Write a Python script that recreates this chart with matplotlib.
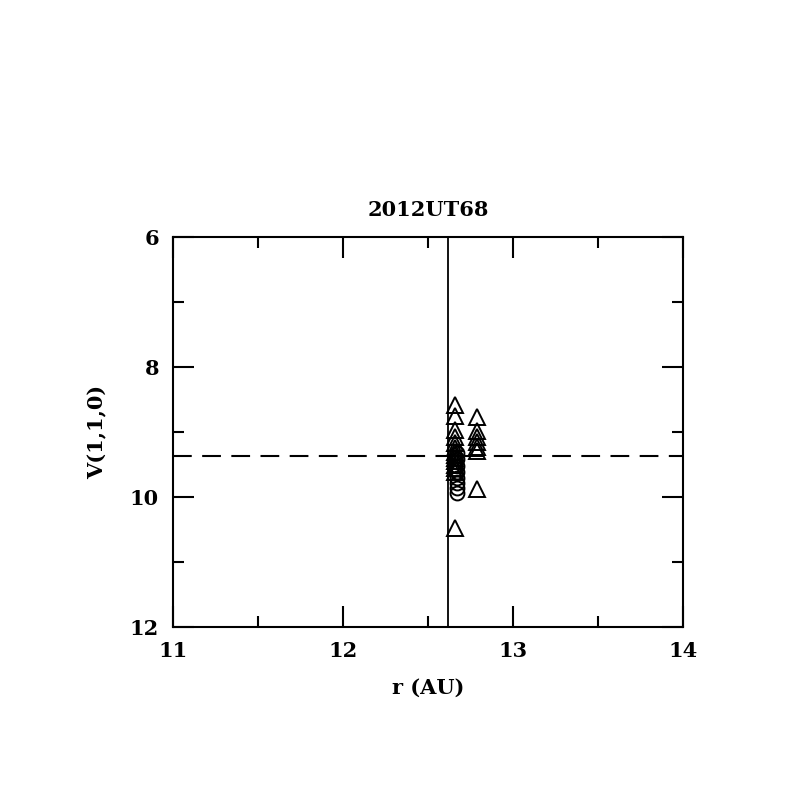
import matplotlib
matplotlib.use("Agg")
import matplotlib.pyplot as plt
from matplotlib.ticker import MultipleLocator

# Object and reference lines
TITLE = "2012UT68"
R_LINE = 12.62
V_MEAN = 9.37

# Triangles: observations at r ~ 12.66 AU
tri_r1 = [12.66] * 14
tri_v1 = [8.58, 8.75, 8.97, 9.08, 9.17, 9.25, 9.30, 9.35, 9.40, 9.45, 9.50, 9.55, 9.62, 10.47]

# Triangles: observations at r ~ 12.79 AU
tri_r2 = [12.79] * 7
tri_v2 = [8.77, 8.98, 9.07, 9.15, 9.23, 9.29, 9.88]

# Circles: observations at r ~ 12.67 AU
circ_r = [12.67] * 8
circ_v = [9.32, 9.42, 9.52, 9.62, 9.70, 9.78, 9.86, 9.94]

plt.rcParams["font.family"] = ["DejaVu Serif"]
plt.rcParams["font.weight"] = "bold"
plt.rcParams["axes.titleweight"] = "bold"
plt.rcParams["axes.labelweight"] = "bold"

fig = plt.figure(figsize=(7.97, 7.97), dpi=100)
ax = fig.add_axes([0.217, 0.213, 0.640, 0.490])

ax.axvline(R_LINE, color="black", lw=1.3)
ax.axhline(V_MEAN, color="black", lw=1.5, ls=(0, (9, 5)))

ax.plot(tri_r1, tri_v1, ls="none", marker="^", ms=11, mfc="none", mec="black", mew=1.4)
ax.plot(tri_r2, tri_v2, ls="none", marker="^", ms=11, mfc="none", mec="black", mew=1.4)
ax.plot(circ_r, circ_v, ls="none", marker="o", ms=10, mfc="none", mec="black", mew=1.4)

ax.set_xlim(11, 14)
ax.set_ylim(12, 6)
ax.xaxis.set_major_locator(MultipleLocator(1))
ax.xaxis.set_minor_locator(MultipleLocator(0.5))
ax.yaxis.set_major_locator(MultipleLocator(2))
ax.yaxis.set_minor_locator(MultipleLocator(1))
ax.tick_params(which="both", direction="in", top=True, right=True, width=1.5, labelsize=15, pad=10)
ax.tick_params(which="major", length=15)
ax.tick_params(which="minor", length=8)
for s in ax.spines.values():
    s.set_linewidth(1.5)

ax.set_xlabel("r (AU)", fontsize=15, labelpad=12)
ax.set_ylabel("V(1,1,0)", fontsize=15, labelpad=16)
ax.set_title(TITLE, fontsize=15, pad=15)

fig.savefig("out.png", dpi=100, facecolor="white")
